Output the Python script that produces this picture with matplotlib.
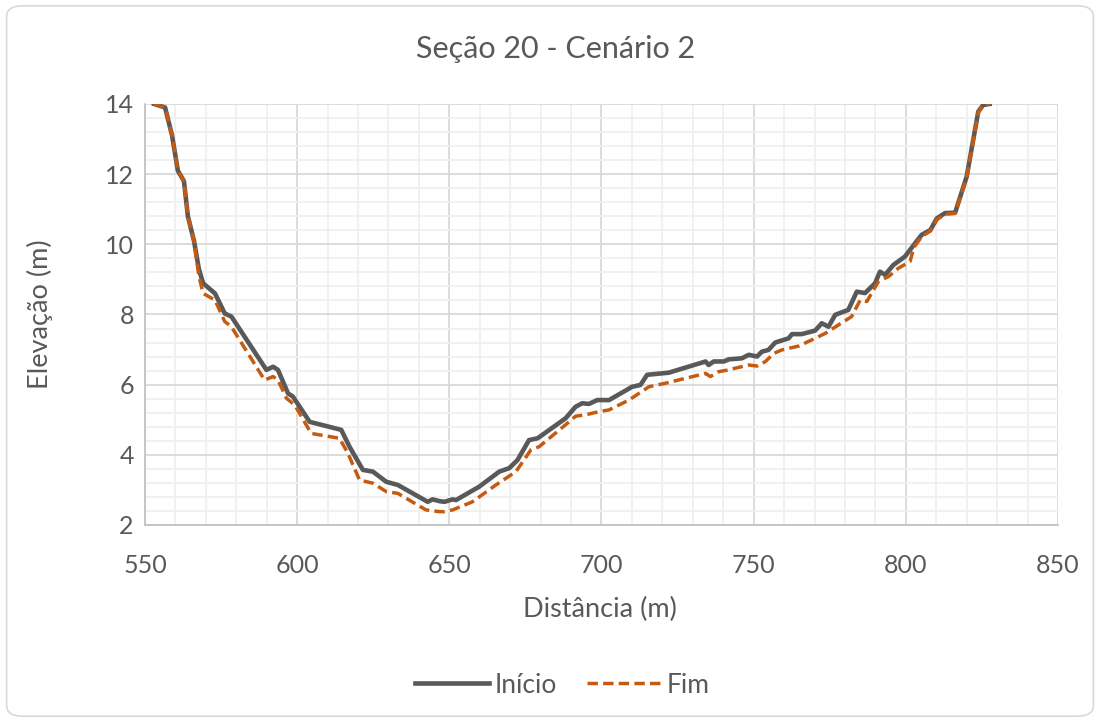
import matplotlib.pyplot as plt
from matplotlib.patches import FancyBboxPatch
from matplotlib.ticker import MultipleLocator

plt.rcParams['font.family'] = ['Lato', 'DejaVu Sans']

# Inicio (solid gray) - distance (m), elevation (m)
inicio_x = [553.0, 556.6, 558.9, 560.8, 562.8, 564.1, 566.1, 567.7, 569.1, 573.0,
            576.2, 578.4, 589.9, 592.1, 593.7, 597.0, 598.6, 604.1, 614.5, 617.2,
            621.6, 624.9, 629.3, 633.1, 642.9, 644.5, 646.7, 648.4, 651.1, 652.2,
            659.8, 666.4, 669.7, 672.4, 676.2, 679.0, 688.2, 691.5, 693.7, 695.9,
            698.6, 702.5, 710.1, 712.8, 715.0, 722.1, 734.2, 735.2, 736.9, 740.2,
            741.8, 746.1, 748.4, 751.1, 752.7, 754.9, 757.1, 761.5, 762.6, 765.8,
            770.2, 772.4, 774.6, 776.8, 781.1, 783.9, 786.6, 789.9, 791.5, 793.2,
            795.9, 799.7, 802.6, 805.2, 808.1, 810.2, 812.9, 816.2, 820.0, 823.8,
            825.4, 827.5]
inicio_y = [14.0, 13.9, 13.1, 12.1, 11.8, 10.8, 10.1, 9.3, 8.89, 8.6,
            8.03, 7.94, 6.42, 6.51, 6.42, 5.75, 5.66, 4.94, 4.71, 4.23,
            3.57, 3.52, 3.23, 3.14, 2.66, 2.73, 2.68, 2.66, 2.73, 2.71,
            3.09, 3.52, 3.62, 3.85, 4.42, 4.47, 5.04, 5.37, 5.47, 5.45,
            5.56, 5.56, 5.94, 5.99, 6.28, 6.34, 6.66, 6.56, 6.66, 6.66,
            6.72, 6.75, 6.85, 6.80, 6.94, 6.99, 7.20, 7.32, 7.44, 7.44,
            7.54, 7.75, 7.65, 7.99, 8.13, 8.65, 8.61, 8.89, 9.22, 9.13,
            9.41, 9.65, 9.98, 10.27, 10.41, 10.74, 10.89, 10.90, 11.93, 13.78,
            13.97, 14.0]

# Fim (dashed orange)
fim_x = [553.0, 556.6, 558.9, 560.8, 562.8, 564.1, 566.1, 567.7, 569.1, 573.0,
         576.2, 578.4, 589.3, 592.1, 593.7, 596.5, 599.2, 604.6, 613.9, 616.7,
         620.5, 624.9, 629.3, 633.1, 642.3, 646.7, 648.4, 651.1, 657.6, 665.3,
         671.9, 676.8, 679.5, 688.8, 691.5, 694.8, 699.2, 702.5, 709.0, 715.6,
         721.0, 734.2, 735.8, 738.5, 741.8, 744.0, 748.4, 751.1, 753.9, 756.6,
         759.3, 764.8, 770.2, 773.5, 782.2, 785.0, 787.2, 791.0, 794.3, 797.6,
         801.4, 802.6, 805.2, 808.1, 810.2, 812.9, 816.2, 820.0, 823.8, 825.4,
         827.5]
fim_y = [14.0, 13.9, 13.1, 12.1, 11.8, 10.8, 10.1, 9.1, 8.6, 8.41,
         7.80, 7.65, 6.13, 6.23, 6.13, 5.61, 5.42, 4.61, 4.47, 4.04,
         3.28, 3.19, 2.95, 2.90, 2.43, 2.38, 2.38, 2.43, 2.66, 3.14,
         3.52, 4.14, 4.23, 4.90, 5.10, 5.14, 5.23, 5.28, 5.56, 5.94,
         6.04, 6.32, 6.23, 6.37, 6.42, 6.47, 6.56, 6.53, 6.66, 6.89,
         6.99, 7.10, 7.32, 7.46, 7.94, 8.41, 8.37, 8.94, 9.08, 9.32,
         9.51, 9.90, 10.22, 10.38, 10.70, 10.86, 10.88, 11.90, 13.75, 13.97,
         14.0]

text_col = '#595959'

fig = plt.figure(figsize=(11, 7.22), dpi=100)
fig.patches.append(FancyBboxPatch((0.006, 0.008), 0.988, 0.984,
                                  boxstyle='round,pad=0,rounding_size=0.015',
                                  transform=fig.transFigure, facecolor='white',
                                  edgecolor='#D9D9D9', linewidth=1.2, zorder=-5))

ax = fig.add_axes([0.1318, 0.2729, 0.830, 0.5831])
ax.set_facecolor('none')
ax.plot(inicio_x, inicio_y, color='#595959', linewidth=3.3, label='Início',
        solid_joinstyle='round')
ax.plot(fim_x, fim_y, color='#C55A11', linewidth=2.5, linestyle=(0, (3, 1.5)),
        label='Fim')

ax.set_xlim(550, 850)
ax.set_ylim(2, 14)
ax.xaxis.set_major_locator(MultipleLocator(50))
ax.xaxis.set_minor_locator(MultipleLocator(10))
ax.yaxis.set_major_locator(MultipleLocator(2))
ax.yaxis.set_minor_locator(MultipleLocator(0.4))
ax.grid(which='major', color='#D9D9D9', linewidth=1.3)
ax.grid(which='minor', color='#F0F0F0', linewidth=1.3)
ax.set_axisbelow(True)
ax.tick_params(which='both', length=0, colors=text_col, labelsize=18)
ax.tick_params(axis='x', pad=21)
ax.tick_params(axis='y', pad=8)
for s in ['top', 'right']:
    ax.spines[s].set_visible(False)
for s in ['left', 'bottom']:
    ax.spines[s].set_color('#BFBFBF')
    ax.spines[s].set_linewidth(1.2)

# axis titles and chart title
fig.text(0.5455, 0.1454, 'Distância (m)', ha='center', va='baseline',
         fontsize=19.5, color=text_col)
fig.text(0.036, 0.565, 'Elevação (m)', ha='center', va='center', rotation=90,
         fontsize=19.5, color=text_col)
fig.text(0.5055, 0.9197, 'Seção 20 - Cenário 2', ha='center', va='baseline',
         fontsize=22, color=text_col)

leg = fig.legend(loc='center', bbox_to_anchor=(0.511, 0.051), ncol=2, frameon=False,
                 fontsize=19, handlelength=2.8, columnspacing=1.15, handletextpad=0.2)
for t in leg.get_texts():
    t.set_color(text_col)

plt.savefig('out.png', dpi=100)
